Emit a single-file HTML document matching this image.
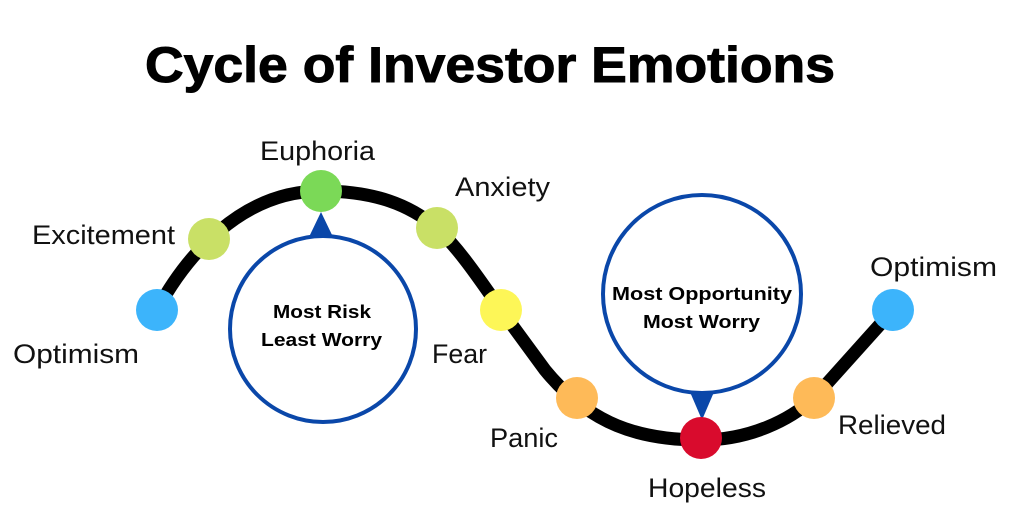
<!DOCTYPE html>
<html><head><meta charset="utf-8"><style>
html,body{margin:0;padding:0;background:#fff;}
svg{display:block;}
text{font-family:"Liberation Sans",sans-serif;}
</style></head><body>
<svg width="1024" height="523" viewBox="0 0 1024 523" xmlns="http://www.w3.org/2000/svg">
<rect width="1024" height="523" fill="#fff"/>
<text x="145" y="82" font-size="50" font-weight="bold" fill="#000" textLength="690" lengthAdjust="spacingAndGlyphs" stroke="#000" stroke-width="1">Cycle of Investor Emotions</text>
<path d="M157,310 C185,258 240,191 321,191 C375,191 410,205 437,228 C460,250 480,280 501,310 L545,370 C590,425 640,440 701,440 C750,440 790,420 814,398 L893,310" fill="none" stroke="#000" stroke-width="13" stroke-linecap="round" stroke-linejoin="round"/>
<circle cx="323" cy="329" r="93" fill="#fff" stroke="#0a47a9" stroke-width="4"/>
<polygon points="321,212 309,237 333,237" fill="#0a47a9"/>
<circle cx="702" cy="294" r="99" fill="#fff" stroke="#0a47a9" stroke-width="4"/>
<polygon points="702,420 690,392 714,392" fill="#0a47a9"/>
<text x="273" y="318" font-size="18" font-weight="bold" textLength="98" lengthAdjust="spacingAndGlyphs">Most Risk</text>
<text x="261" y="346" font-size="18" font-weight="bold" textLength="121" lengthAdjust="spacingAndGlyphs">Least Worry</text>
<text x="612" y="300" font-size="18" font-weight="bold" textLength="180" lengthAdjust="spacingAndGlyphs">Most Opportunity</text>
<text x="643" y="328" font-size="18" font-weight="bold" textLength="117" lengthAdjust="spacingAndGlyphs">Most Worry</text>
<circle cx="157" cy="310" r="21" fill="#3cb4fb"/>
<circle cx="209" cy="239" r="21" fill="#c9e066"/>
<circle cx="321" cy="191" r="21" fill="#7bd957"/>
<circle cx="437" cy="228" r="21" fill="#c9e066"/>
<circle cx="501" cy="310" r="21" fill="#fdf657"/>
<circle cx="577" cy="398" r="21" fill="#feba58"/>
<circle cx="701" cy="438" r="21" fill="#d90b2d"/>
<circle cx="814" cy="398" r="21" fill="#feba58"/>
<circle cx="893" cy="310" r="21" fill="#3cb4fb"/>
<g font-size="27" fill="#111" lengthAdjust="spacingAndGlyphs">
<text x="260" y="160" textLength="115" lengthAdjust="spacingAndGlyphs">Euphoria</text>
<text x="32" y="244" textLength="143" lengthAdjust="spacingAndGlyphs">Excitement</text>
<text x="13" y="363" textLength="126" lengthAdjust="spacingAndGlyphs">Optimism</text>
<text x="455" y="196" textLength="95" lengthAdjust="spacingAndGlyphs">Anxiety</text>
<text x="432" y="363" textLength="55" lengthAdjust="spacingAndGlyphs">Fear</text>
<text x="490" y="447" textLength="68" lengthAdjust="spacingAndGlyphs">Panic</text>
<text x="648" y="497" textLength="118" lengthAdjust="spacingAndGlyphs">Hopeless</text>
<text x="838" y="434" textLength="108" lengthAdjust="spacingAndGlyphs">Relieved</text>
<text x="870" y="276" textLength="127" lengthAdjust="spacingAndGlyphs">Optimism</text>
</g>
</svg>
</body></html>
